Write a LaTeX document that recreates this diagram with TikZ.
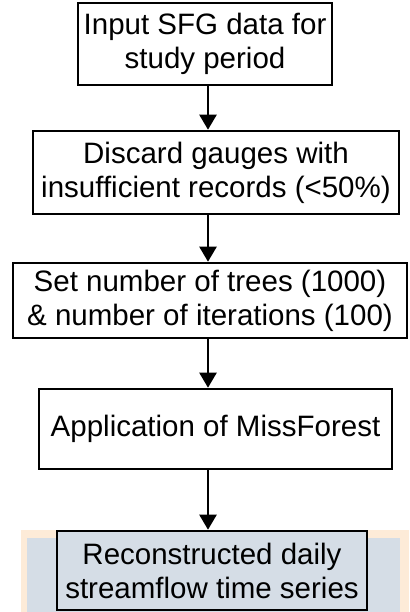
\documentclass[tikz,border=0pt]{standalone}
\usepackage{fontspec}
\setmainfont{Liberation Sans}
\usepackage{tikz}
\usetikzlibrary{positioning,arrows.meta}
\definecolor{WMBlue}{HTML}{D5DDE6}
\definecolor{WMOrange}{HTML}{FDEBD8}

\begin{document}
\begin{tikzpicture}[x=1pt,y=1pt,>={Triangle[length=15pt,width=17pt]}]
  \tikzstyle{stepbox}=[draw=black,line width=2.6pt,fill=white,inner sep=0pt,
    align=center,font=\fontsize{29.5}{34}\selectfont]
  \tikzstyle{flow}=[->,line width=2.4pt]
  \useasboundingbox (0,0) rectangle (409,-612);
  % faint watermark behind the last box
  \fill[WMOrange] (21,-530) rectangle (409,-612);
  \fill[WMBlue] (27,-538) rectangle (400,-612);
  \coordinate (ax) at (208,0);
  \node[stepbox,minimum width=254pt,minimum height=82pt] (input) at (205,-44)
    {Input SFG data for\\study period};
  \node[stepbox,minimum width=366pt,minimum height=83pt] (discard) at (216,-172.5)
    {Discard gauges with\\insufficient records (<50\%)};
  \node[stepbox,minimum width=394pt,minimum height=75pt] (trees) at (210,-300.5)
    {Set number of trees (1000)\\\& number of iterations (100)};
  \node[stepbox,minimum width=353pt,minimum height=80pt] (missf) at (215.5,-429)
    {Application of MissForest};
  \node[stepbox,fill=WMBlue,minimum width=310pt,minimum height=79pt] (recon) at (212,-570.5)
    {Reconstructed daily\\streamflow time series};
  \draw[flow] (input.south -| ax) -- (discard.north -| ax);
  \draw[flow] (discard.south -| ax) -- (trees.north -| ax);
  \draw[flow] (trees.south -| ax) -- (missf.north -| ax);
  \draw[flow] (missf.south -| ax) -- (recon.north -| ax);
\end{tikzpicture}
\end{document}
